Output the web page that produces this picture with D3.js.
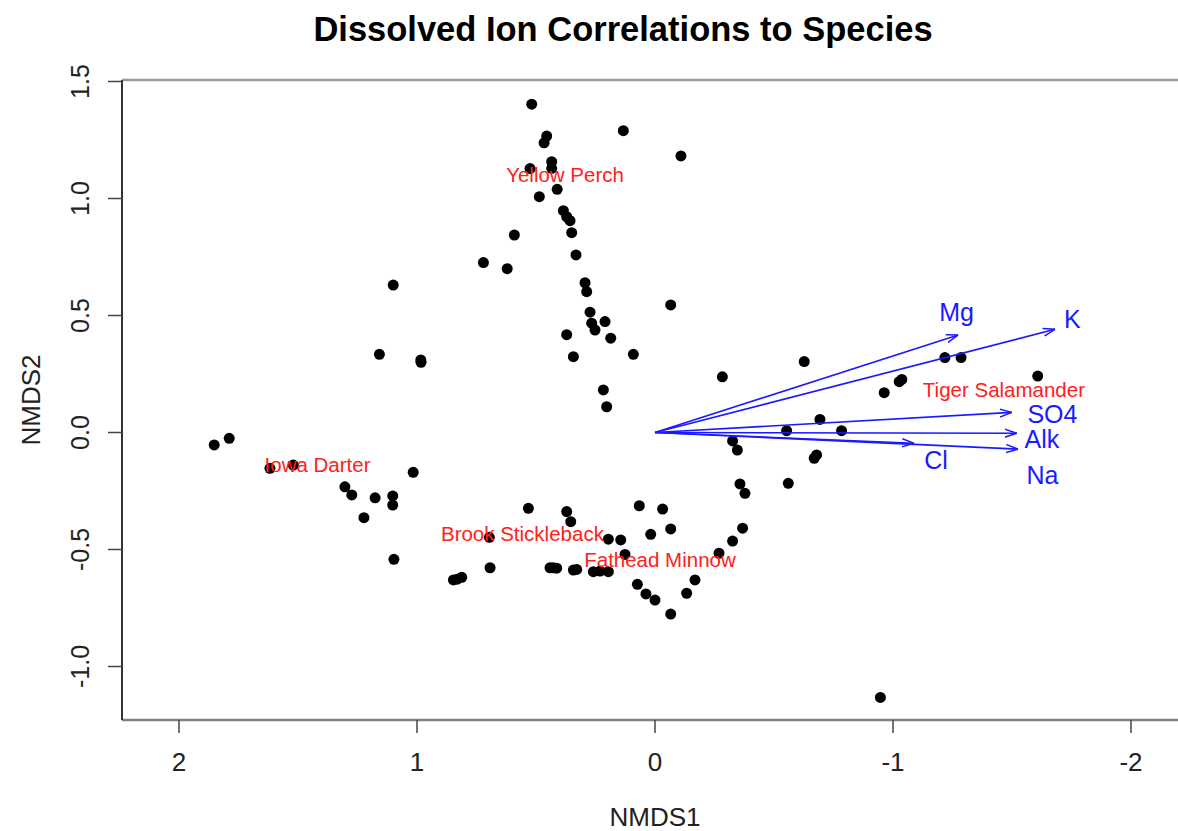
<!DOCTYPE html>
<html>
<head>
<meta charset="utf-8">
<script src="https://cdn.jsdelivr.net/npm/d3@7"></script>
<style>
  body { margin: 0; background: #fff; }
  text { font-family: "Liberation Sans", Arial, sans-serif; }
</style>
</head>
<body>
<div id="plot"></div>
<script>
// site scores (NMDS1, NMDS2)
var nmds1 = [0.518,0.455,0.466,0.133,-0.109,0.525,0.434,0.434,0.411,0.486,
  0.385,0.371,0.357,0.350,0.591,0.332,0.721,0.621,0.294,0.287,
  -0.066,0.273,0.266,0.252,0.210,0.371,0.186,0.343,0.091,0.984,
  1.100,1.158,1.852,1.789,1.618,1.520,1.016,1.303,1.274,1.176,
  1.102,1.102,1.223,0.696,1.097,0.693,0.831,0.812,0.847,-0.283,
  0.217,0.203,-0.553,-0.326,-0.346,-0.357,-0.378,-0.560,0.532,0.371,
  0.354,0.066,-0.032,-0.368,-0.066,0.018,0.196,0.144,-0.326,0.126,
  -0.269,0.427,0.441,0.413,0.343,0.329,0.259,0.231,0.196,-0.168,
  0.074,-0.133,0.038,0.000,-0.066,-0.627,-1.218,-1.286,-1.037,-1.026,
  -0.963,-1.608,-0.693,-0.784,-0.679,-0.669,-0.947,0.983]
var nmds2 = [1.403,1.267,1.238,1.290,1.182,1.128,1.157,1.129,1.039,1.008,
  0.948,0.922,0.905,0.854,0.844,0.759,0.726,0.700,0.640,0.602,
  0.545,0.514,0.467,0.438,0.474,0.418,0.403,0.324,0.334,0.310,
  0.630,0.334,-0.053,-0.025,-0.153,-0.139,-0.170,-0.232,-0.267,-0.279,
  -0.271,-0.310,-0.364,-0.448,-0.542,-0.578,-0.627,-0.619,-0.630,0.238,
  0.182,0.110,0.008,-0.036,-0.075,-0.220,-0.260,-0.217,-0.324,-0.338,
  -0.381,-0.313,-0.327,-0.409,-0.412,-0.435,-0.456,-0.459,-0.464,-0.521,
  -0.516,-0.578,-0.578,-0.580,-0.588,-0.585,-0.595,-0.592,-0.595,-0.630,
  -0.649,-0.687,-0.690,-0.716,-0.776,0.303,0.320,0.320,0.227,0.217,
  0.170,0.241,0.056,0.008,-0.096,-0.110,-1.132,0.300]

// species labels
var species = ["Yellow Perch","Iowa Darter","Brook Stickleback","Fathead Minnow","Tiger Salamander"]
var speciesX = [0.378,1.418,0.557,-0.021,-1.466]
var speciesY = [1.100,-0.139,-0.435,-0.545,0.182]

// ion vectors
var ions = ["Mg","K","SO4","Alk","Na","Cl"]
var ionX = [-1.274,-1.681,-1.499,-1.520,-1.526,-1.089]
var ionY = [0.417,0.441,0.086,-0.003,-0.071,-0.046]
var ionLabX = [-1.267,-1.754,-1.670,-1.626,-1.628,-1.181]
var ionLabY = [0.514,0.485,0.078,-0.027,-0.182,-0.118]

var xTicks = [2,1,0,-1,-2]
var yTicks = [1.5,1.0,0.5,0.0,-0.5,-1.0]

var W = 1178, H = 831
var pLeft = 122, pTop = 80, pBottom = 720

var svg = d3.select("#plot").append("svg")
  .attr("width", W).attr("height", H)

var x = d3.scaleLinear().domain([0, 2]).range([655, 179])
var y = d3.scaleLinear().domain([0, 1.5]).range([432.5, 81.5])

// frame
svg.append("line").attr("x1", pLeft).attr("x2", W).attr("y1", pTop).attr("y2", pTop)
  .attr("stroke", "#9a9a9a").attr("stroke-width", 2.5)
svg.append("line").attr("x1", pLeft).attr("x2", W).attr("y1", pBottom).attr("y2", pBottom)
  .attr("stroke", "#808080").attr("stroke-width", 2.5)
svg.append("line").attr("x1", pLeft).attr("x2", pLeft).attr("y1", pTop).attr("y2", pBottom)
  .attr("stroke", "#333").attr("stroke-width", 2)

// x axis ticks
svg.selectAll(".xt").data(xTicks).enter().append("line")
  .attr("x1", d => x(d)).attr("x2", d => x(d))
  .attr("y1", pBottom).attr("y2", pBottom + 13)
  .attr("stroke", "#444").attr("stroke-width", 1.5)
svg.selectAll(".xl").data(xTicks).enter().append("text")
  .attr("x", d => x(d)).attr("y", 771)
  .attr("text-anchor", "middle").attr("font-size", 26).attr("fill", "#222")
  .text(d => String(d))

// y axis ticks
svg.selectAll(".yt").data(yTicks).enter().append("line")
  .attr("x1", pLeft - 14).attr("x2", pLeft)
  .attr("y1", d => y(d)).attr("y2", d => y(d))
  .attr("stroke", "#444").attr("stroke-width", 1.5)
svg.selectAll(".yl").data(yTicks).enter().append("text")
  .attr("transform", d => "translate(89," + y(d) + ") rotate(-90)")
  .attr("text-anchor", "middle").attr("font-size", 25).attr("fill", "#222")
  .text(d => d.toFixed(1))

// titles
svg.append("text").attr("x", 623).attr("y", 41)
  .attr("text-anchor", "middle").attr("font-size", 34.5).attr("font-weight", "bold")
  .text("Dissolved Ion Correlations to Species")
svg.append("text").attr("x", 655).attr("y", 826)
  .attr("text-anchor", "middle").attr("font-size", 26).attr("fill", "#222")
  .text("NMDS1")
svg.append("text").attr("transform", "translate(40,400) rotate(-90)")
  .attr("text-anchor", "middle").attr("font-size", 26).attr("fill", "#222")
  .text("NMDS2")

// points
var pts = nmds1.map((d, i) => [d, nmds2[i]])
svg.selectAll(".pt").data(pts).enter().append("circle")
  .attr("cx", d => x(d[0])).attr("cy", d => y(d[1])).attr("r", 5.5)
  .attr("fill", "#000")

// species labels
svg.selectAll(".sp").data(species).enter().append("text")
  .attr("x", (d, i) => x(speciesX[i])).attr("y", (d, i) => y(speciesY[i]) + 7)
  .attr("text-anchor", "middle").attr("font-size", 20.5).attr("fill", "#ff2020")
  .text(d => d)

// arrows
svg.append("defs").append("marker")
  .attr("id", "ah").attr("viewBox", "0 0 12 10").attr("refX", 12).attr("refY", 5)
  .attr("markerWidth", 12).attr("markerHeight", 10).attr("markerUnits", "userSpaceOnUse")
  .attr("orient", "auto")
  .append("path").attr("d", "M0,1 L12,5 L0,9").attr("fill", "none")
  .attr("stroke", "#1a1aff").attr("stroke-width", 1.5)

svg.selectAll(".ar").data(ions).enter().append("line")
  .attr("x1", x(0)).attr("y1", y(0))
  .attr("x2", (d, i) => x(ionX[i])).attr("y2", (d, i) => y(ionY[i]))
  .attr("stroke", "#1a1aff").attr("stroke-width", 1.6)
  .attr("marker-end", "url(#ah)")

svg.selectAll(".il").data(ions).enter().append("text")
  .attr("x", (d, i) => x(ionLabX[i])).attr("y", (d, i) => y(ionLabY[i]) + 9)
  .attr("text-anchor", "middle").attr("font-size", 25).attr("fill", "#1a1aff")
  .text(d => d)
</script>
</body>
</html>
